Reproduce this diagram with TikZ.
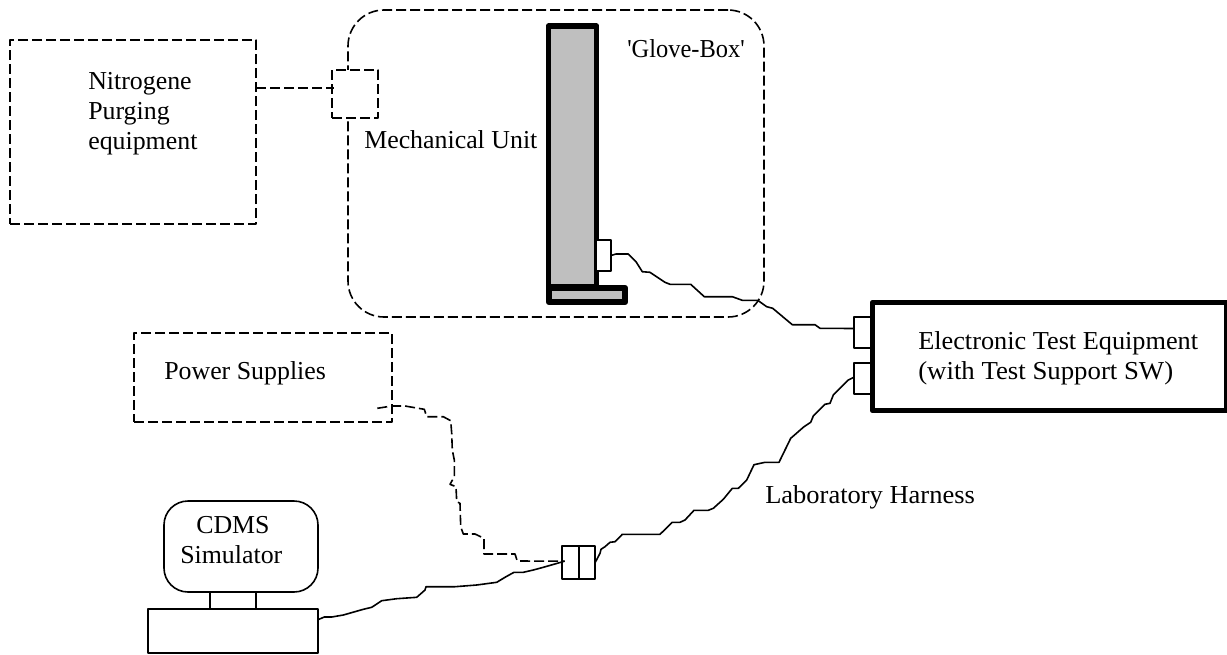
\documentclass[tikz,border=0pt]{standalone}
\usepackage{fontspec}
\newfontfamily\labelfont{Liberation Serif}
\tikzset{
  unit/.style={draw, line width=1.2pt, inner sep=0pt, outer sep=0pt, line join=round},
  planned/.style={unit, dash pattern=on 7.5pt off 3pt},
  heavy/.style={unit, line width=4.2pt},
  wire/.style={line width=1.2pt, line join=round},
  lbl/.style={font=\labelfont\fontsize{19.4}{22.5}\selectfont, inner sep=0pt, anchor=base west, align=left},
}
\begin{document}
\begin{tikzpicture}[x=0.75pt, y=-0.75pt]
  \useasboundingbox (0,0) rectangle (1227,654);
  % glove box with the mechanical unit
  \node[planned, rounded corners=27pt, minimum width=312pt, minimum height=230.25pt] (glove) at (556,163.5) {};
  \node[heavy, fill=gray!50!white, minimum width=36pt, minimum height=195.75pt] (column) at (572.5,156.5) {};
  \node[heavy, fill=gray!50!white, minimum width=57.4pt, minimum height=10.9pt] (foot) at (587,295) {};
  \node[unit, fill=white, minimum width=11.25pt, minimum height=23.25pt] (port) at (603.5,255.5) {};
  % nitrogene equipment
  \node[planned, minimum width=184.5pt, minimum height=138pt] (nitrogene) at (133,132) {};
  \node[planned, fill=white, minimum width=34.5pt, minimum height=36pt] (valve) at (355,94) {};
  % test equipment
  \node[heavy, minimum width=265.5pt, minimum height=81pt] (ete) at (1049.5,356.5) {};
  \node[unit, minimum width=12.75pt, minimum height=23.25pt] (plugA) at (862.5,332.5) {};
  \node[unit, minimum width=12.75pt, minimum height=23.25pt] (plugB) at (862.5,378.5) {};
  % power supplies
  \node[planned, minimum width=193.5pt, minimum height=66.75pt] (supplies) at (263,377.5) {};
  \coordinate (suppliesOut) at (377.3,408.3);
  % CDMS simulator
  \node[unit, rounded corners=18pt, minimum width=115.5pt, minimum height=68.25pt] (cdms) at (241,546.5) {};
  \node[unit, minimum width=127.5pt, minimum height=33.2pt] (console) at (233,631) {};
  \draw[wire] ([xshift=-23.25pt]cdms.south) -- ([xshift=-17.25pt]console.north);
  \draw[wire] ([xshift=11.25pt]cdms.south) -- ([xshift=17.25pt]console.north);
  % harness joint
  \node[unit, minimum width=12.75pt, minimum height=24.75pt] (jointL) at (570.5,562.5) {};
  \node[unit, minimum width=12.25pt, minimum height=24.75pt] (jointR) at (587,562.5) {};
  % connections
  \draw[planned, fill=none] ([yshift=33pt]nitrogene.east) -- ([xshift=1.5pt,yshift=4.5pt]valve.west);
  \draw[wire] (port.east) -- (616,254) -- (628.3,254) -- (636,261.7) -- (642.3,271.7) -- (650,272.3)
    -- (665,282.3) -- (670,284.3) -- (690.7,284.3) -- (704.3,296.7) -- (732.3,296.7) -- (742.3,300.3)
    -- (757.7,300.3) -- (766.7,306.7) -- (772.7,308.3) -- (792.3,324.7) -- (815,324.7) -- (820,328.3)
    -- ([yshift=3pt]plugA.west);
  \draw[wire] ([yshift=1pt]plugB.west) -- (848.3,380) -- (833.3,395) -- (830,403.3) -- (825,404.3)
    -- (813.3,416) -- (810.7,422.3) -- (804,426.7) -- (790.7,438.3) -- (779,462.3) -- (765,462.3)
    -- (754,464.7) -- (746.7,480) -- (738.3,488.3) -- (732.3,488.3) -- (723.3,499.3) -- (713.3,508.3)
    -- (708.3,510.3) -- (694,510.3) -- (685,520) -- (680,522.3) -- (672.3,522.3) -- (660,534.3)
    -- (622.3,534.3) -- (615,541.7) -- (610,542.3) -- (605,546.7) -- (601,549.3) -- (600,553.3)
    -- (jointR.east);
  \draw[wire] ([yshift=8.5pt]console.east) -- (324.3,617) -- (331.7,617) -- (343.3,615) -- (363.3,609.3)
    -- (371.7,607.3) -- (381.7,600.7) -- (396.7,598.7) -- (416.7,597.3) -- (425,590) -- (426,586.7)
    -- (455,586.7) -- (476.7,585) -- (496.7,582.3) -- (506,576.7) -- (514,572.3) -- (523.3,572.3)
    -- (533.3,570) -- (543.3,567.3) -- ([xshift=2pt,yshift=1pt]jointL.west);
  \draw[wire, dash pattern=on 7.5pt off 3pt] (suppliesOut) -- (391.7,406) -- (405,406) -- (424.3,409.3)
    -- (426.7,416.7) -- (443.3,416.7) -- (450.7,420.7) -- (451.7,433.3) -- (452.3,450) -- (454.3,460)
    -- (454.3,476.7) -- (450,484.3) -- (456,486.7) -- (456.7,501.7) -- (460,503.3) -- (460.7,526.7)
    -- (463.3,534) -- (475,534) -- (484,538.3) -- (484,554) -- (515,554) -- (517.3,561)
    -- ([xshift=2pt,yshift=1pt]jointL.west);
  % labels
  \node[lbl] (nitrogeneText) at (88,89) {Nitrogene};
  \node[lbl] (purgingText) at (88,119) {Purging};
  \node[lbl] (equipmentText) at (88,149) {equipment};
  \node[lbl] (mechText) at (364,148) {Mechanical Unit};
  \node[lbl] (gloveText) at (627,57) {\scalebox{0.945}[1]{'Glove-Box'}};
  \node[lbl] (eteText) at (918,349) {\scalebox{1.016}[1]{Electronic Test Equipment}};
  \node[lbl] (eteSwText) at (918,379) {\scalebox{1.036}[1]{(with Test Support SW)}};
  \node[lbl] (suppliesText) at (164,379) {Power Supplies};
  \node[lbl] (cdmsText) at (196,533) {CDMS};
  \node[lbl] (simText) at (180,563) {Simulator};
  \node[lbl] (harnessText) at (765,503) {\scalebox{1.024}[1]{Laboratory Harness}};
\end{tikzpicture}
\end{document}
